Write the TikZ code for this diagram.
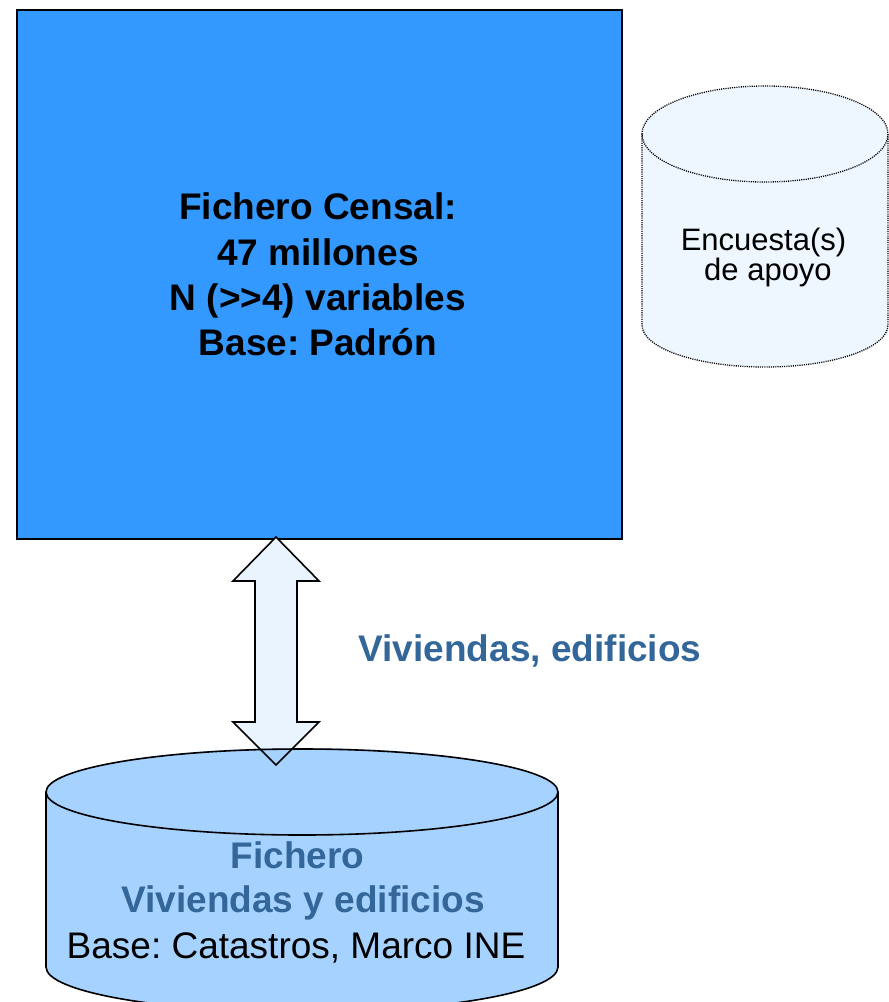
\documentclass[tikz,border=0pt]{standalone}
\usepackage{fontspec}
\setmainfont{Liberation Sans}
\frenchspacing
\definecolor{mainblue}{HTML}{3399FF}
\definecolor{arrowfill}{HTML}{EAF4FF}
\definecolor{cylblue}{HTML}{A6D2FF}
\definecolor{cylpale}{HTML}{EEF6FF}
\definecolor{txtblue}{HTML}{336699}
\begin{document}
\begin{tikzpicture}[x=1pt,y=-1pt,
  bigtxt/.style={font=\fontsize{37}{45}\selectfont\bfseries, anchor=base, inner sep=0pt},
  regtxt/.style={font=\fontsize{37}{45}\selectfont, anchor=base, inner sep=0pt},
  smalltxt/.style={font=\fontsize{31}{36}\selectfont, anchor=base, inner sep=0pt},
  outline/.style={draw=black, line width=1.6pt, line join=miter},
  dotline/.style={draw=black, line width=1.3pt, dash pattern=on 1.1pt off 1.1pt}]
\useasboundingbox (0,0) rectangle (889,1002);
\begin{scope}
\clip (0,0) rectangle (889,1002);

% main box
\node[outline, fill=mainblue, minimum width=605pt, minimum height=529pt, inner sep=0pt, anchor=north west] (main) at (16,9) {};
\node[bigtxt] (l1) at (318,219) {Fichero Censal:};
\node[bigtxt] (l2) at (318,265) {47 millones};
\node[bigtxt] (l3) at (318,310) {N (>{}>4) variables};
\node[bigtxt] (l4) at (318,355) {Base: Padrón};

% small dotted cylinder
\path[fill=cylpale] (642,134) -- (642,325) arc[start angle=180, end angle=0, x radius=123, y radius=42]
   -- (888,134) arc[start angle=0, end angle=-180, x radius=123, y radius=48] -- cycle;
\draw[dotline] (642,134) -- (642,325) arc[start angle=180, end angle=0, x radius=123, y radius=42] -- (888,134);
\draw[dotline] (765,134) ellipse[x radius=123, y radius=48];
\node[smalltxt] (enc1) at (763.5,250) {Encuesta(s)};
\node[smalltxt] (enc2) at (768,280) {de apoyo};

% double arrow fill
\coordinate (atop) at (276,537);
\coordinate (abot) at (276,765);
\path[fill=arrowfill] (atop) -- (319,581) -- (297,581) -- (297,722) -- (319,722) -- (abot)
   -- (233,722) -- (255,722) -- (255,581) -- (233,581) -- cycle;

% bottom cylinder
\path[fill=cylblue] (46,792) -- (46,967) arc[start angle=180, end angle=0, x radius=256, y radius=45]
   -- (558,792) arc[start angle=0, end angle=-180, x radius=256, y radius=44] -- cycle;
\draw[line width=1.6pt] (46,792) -- (46,967) arc[start angle=180, end angle=0, x radius=256, y radius=45] -- (558,792);
\draw[line width=1.6pt] (302,792) ellipse[x radius=256, y radius=43];

% double arrow outline
\draw[outline] (atop) -- (319,581) -- (297,581) -- (297,722) -- (319,722) -- (abot)
   -- (233,722) -- (255,722) -- (255,581) -- (233,581) -- cycle;

\node[bigtxt, text=txtblue] (viv) at (530,661) {Viviendas, edificios};
\node[bigtxt, text=txtblue] (b1) at (297.5,868) {Fichero};
\node[bigtxt, text=txtblue] (b2) at (303,912) {Viviendas y edificios};
\node[regtxt] (b3) at (296,958) {Base: Catastros, Marco INE};
\end{scope}
\end{tikzpicture}
\end{document}
